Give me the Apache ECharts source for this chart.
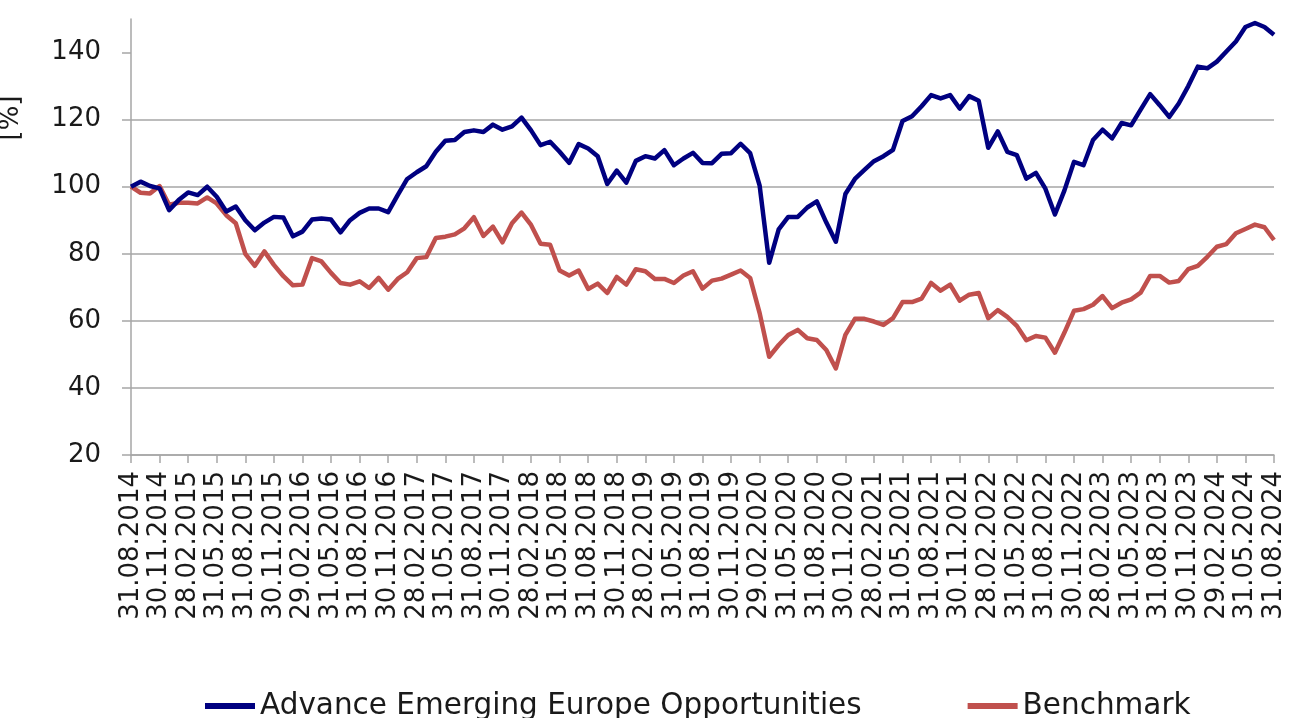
<!DOCTYPE html>
<html>
<head>
<meta charset="utf-8">
<script src="https://cdn.jsdelivr.net/npm/echarts@6/dist/echarts.min.js"></script>
<style>
  html, body { margin: 0; padding: 0; background: #fff; }
  #chart { width: 1295px; height: 718px; }
</style>
</head>
<body>
<div id="chart"></div>
<script>
// month-end dates, 31.08.2014 - 31.08.2024
const dates = [
  '31.08.2014', '30.09.2014', '31.10.2014', '30.11.2014', '31.12.2014',
  '31.01.2015', '28.02.2015', '31.03.2015', '30.04.2015', '31.05.2015', '30.06.2015', '31.07.2015', '31.08.2015', '30.09.2015', '31.10.2015', '30.11.2015', '31.12.2015',
  '31.01.2016', '29.02.2016', '31.03.2016', '30.04.2016', '31.05.2016', '30.06.2016', '31.07.2016', '31.08.2016', '30.09.2016', '31.10.2016', '30.11.2016', '31.12.2016',
  '31.01.2017', '28.02.2017', '31.03.2017', '30.04.2017', '31.05.2017', '30.06.2017', '31.07.2017', '31.08.2017', '30.09.2017', '31.10.2017', '30.11.2017', '31.12.2017',
  '31.01.2018', '28.02.2018', '31.03.2018', '30.04.2018', '31.05.2018', '30.06.2018', '31.07.2018', '31.08.2018', '30.09.2018', '31.10.2018', '30.11.2018', '31.12.2018',
  '31.01.2019', '28.02.2019', '31.03.2019', '30.04.2019', '31.05.2019', '30.06.2019', '31.07.2019', '31.08.2019', '30.09.2019', '31.10.2019', '30.11.2019', '31.12.2019',
  '31.01.2020', '29.02.2020', '31.03.2020', '30.04.2020', '31.05.2020', '30.06.2020', '31.07.2020', '31.08.2020', '30.09.2020', '31.10.2020', '30.11.2020', '31.12.2020',
  '31.01.2021', '28.02.2021', '31.03.2021', '30.04.2021', '31.05.2021', '30.06.2021', '31.07.2021', '31.08.2021', '30.09.2021', '31.10.2021', '30.11.2021', '31.12.2021',
  '31.01.2022', '28.02.2022', '31.03.2022', '30.04.2022', '31.05.2022', '30.06.2022', '31.07.2022', '31.08.2022', '30.09.2022', '31.10.2022', '30.11.2022', '31.12.2022',
  '31.01.2023', '28.02.2023', '31.03.2023', '30.04.2023', '31.05.2023', '30.06.2023', '31.07.2023', '31.08.2023', '30.09.2023', '31.10.2023', '30.11.2023', '31.12.2023',
  '31.01.2024', '29.02.2024', '31.03.2024', '30.04.2024', '31.05.2024', '30.06.2024', '31.07.2024', '31.08.2024'
]

const fundValues = [
  100, 101.5, 100.2, 99.5, 93, 96, 98.3, 97.5, 100, 97,
  92.6, 94.1, 90, 87, 89.3, 91, 90.8, 85.2, 86.6, 90.2,
  90.5, 90.2, 86.4, 90, 92.2, 93.5, 93.5, 92.4, 97.5, 102.3,
  104.3, 106.1, 110.4, 113.7, 113.9, 116.3, 116.8, 116.3, 118.5, 117,
  118, 120.6, 116.8, 112.4, 113.4, 110.4, 107.1, 112.7, 111.4, 109.1,
  100.8, 104.8, 101.2, 107.7, 109.1, 108.4, 110.9, 106.4, 108.4, 110.1,
  107.1, 107, 109.8, 110, 112.8, 110, 100.3, 77.3, 87.3, 91,
  91, 93.8, 95.6, 89.3, 83.6, 97.8, 102.3, 105, 107.6, 109.1,
  111, 119.6, 121, 124, 127.3, 126.3, 127.3, 123.3, 127, 125.6,
  111.6, 116.5, 110.4, 109.4, 102.4, 104.1, 99.4, 91.7, 98.9, 107.4,
  106.4, 113.9, 117, 114.4, 119, 118.3, 123, 127.6, 124.3, 120.8,
  124.8, 130, 135.8, 135.3, 137.3, 140.3, 143.3, 147.6, 148.8, 147.6,
  145.3
]

const benchmarkValues = [
  100, 98.2, 98, 100.2, 94.6, 95.2, 95.2, 95, 96.8, 95,
  91.5, 89.1, 80, 76.4, 80.7, 76.7, 73.3, 70.6, 70.8, 78.7,
  77.7, 74.3, 71.3, 70.8, 71.8, 69.8, 72.8, 69.3, 72.5, 74.5,
  78.7, 79, 84.7, 85.1, 85.8, 87.6, 90.9, 85.3, 88.1, 83.4,
  89.1, 92.3, 88.6, 83, 82.7, 75, 73.5, 75, 69.5, 71.1,
  68.3, 73.1, 70.8, 75.4, 74.8, 72.5, 72.5, 71.3, 73.5, 74.8,
  69.6, 72, 72.6, 73.8, 75, 72.8, 62.3, 49.3, 52.8, 55.8,
  57.3, 54.8, 54.3, 51.3, 45.8, 55.8, 60.6, 60.6, 59.8, 58.8,
  60.8, 65.6, 65.6, 66.6, 71.3, 69, 70.8, 66, 67.8, 68.3,
  60.8, 63.2, 61.2, 58.5, 54.2, 55.5, 55, 50.5, 56.5, 63,
  63.5, 64.8, 67.4, 63.8, 65.4, 66.4, 68.4, 73.4, 73.4, 71.4,
  71.9, 75.4, 76.4, 79.1, 82.1, 82.9, 86.1, 87.4, 88.7, 87.9,
  84.1
]

const yTicks = [20, 40, 60, 80, 100, 120, 140]
const seriesNames = ['Advance Emerging Europe Opportunities', 'Benchmark']

const font = 'DejaVu Sans'
const gridColor = '#a6a6a6'

const chart = echarts.init(document.getElementById('chart'))
chart.setOption({
  animation: false,
  color: ['#000080', '#c0504d'],
  grid: { left: 131, right: 21, top: 19, bottom: 263 },
  legend: {
    left: 200,
    top: 686,
    icon: 'rect',
    itemWidth: 50,
    itemHeight: 6,
    itemGap: 106,
    textStyle: { fontFamily: font, fontSize: 29.5, color: '#1a1a1a' },
    data: seriesNames
  },
  graphic: [{
    type: 'text',
    x: -2,
    y: 118,
    rotation: Math.PI / 2,
    style: {
      text: '[%]',
      font: '26px ' + font,
      fill: '#1a1a1a',
      align: 'center',
      verticalAlign: 'top'
    }
  }],
  xAxis: {
    type: 'category',
    boundaryGap: false,
    data: dates,
    axisLine: { lineStyle: { color: gridColor, width: 1.5 } },
    axisTick: { interval: 2, length: 8, lineStyle: { color: gridColor, width: 1.5 } },
    axisLabel: {
      interval: 2,
      rotate: 90,
      margin: 16,
      fontFamily: font,
      fontSize: 26,
      color: '#1a1a1a'
    },
    splitLine: { show: false }
  },
  yAxis: {
    type: 'value',
    min: 20,
    max: 150,
    interval: 20,
    axisLine: { show: true, lineStyle: { color: gridColor, width: 1.5 } },
    axisTick: { show: true, length: 9, customValues: yTicks, lineStyle: { color: gridColor, width: 1.5 } },
    axisLabel: {
      customValues: yTicks,
      margin: 30,
      fontFamily: font,
      fontSize: 26,
      color: '#1a1a1a'
    },
    splitLine: { show: true, showMaxLine: false, lineStyle: { color: gridColor, width: 1.5 } }
  },
  series: [
    {
      name: seriesNames[0],
      type: 'line',
      data: fundValues,
      showSymbol: false,
      lineStyle: { width: 4.5, join: 'round' },
      z: 3
    },
    {
      name: seriesNames[1],
      type: 'line',
      data: benchmarkValues,
      showSymbol: false,
      lineStyle: { width: 4.5, join: 'round' },
      z: 2
    }
  ]
})
</script>
</body>
</html>
